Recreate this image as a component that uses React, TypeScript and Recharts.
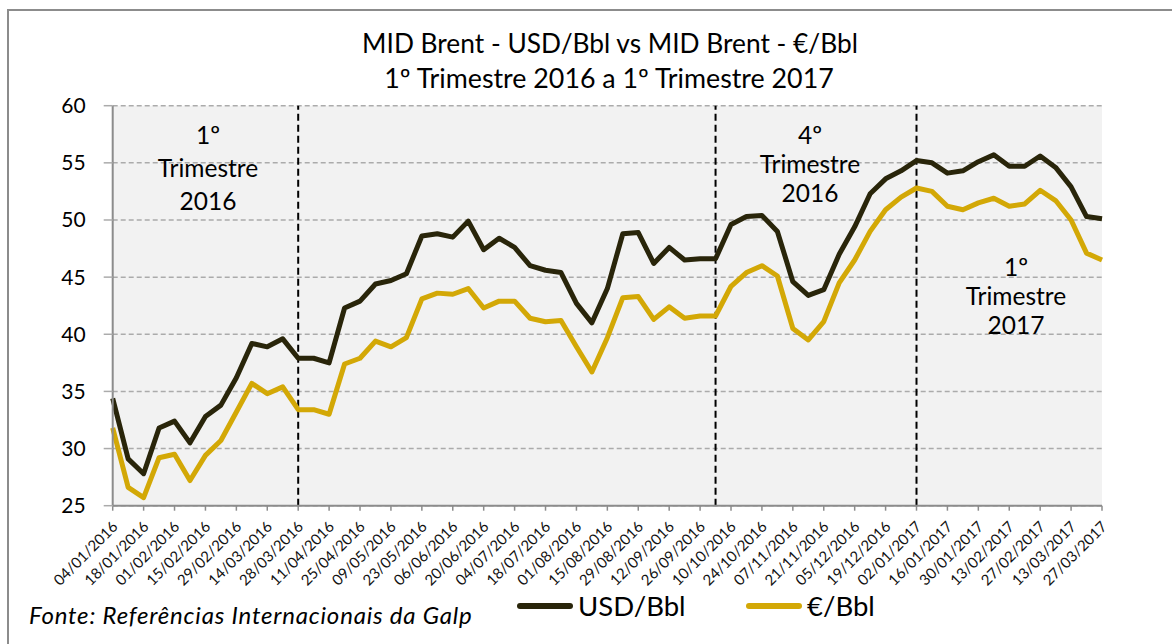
import React from "react"
import { LineChart, Line, XAxis, YAxis, CartesianGrid, ReferenceLine } from "recharts"

// weekly quotes, Mondays
const weeks = [
  "04/01/2016", "11/01/2016", "18/01/2016", "25/01/2016", "01/02/2016", "08/02/2016", "15/02/2016",
  "22/02/2016", "29/02/2016", "07/03/2016", "14/03/2016", "21/03/2016", "28/03/2016", "04/04/2016",
  "11/04/2016", "18/04/2016", "25/04/2016", "02/05/2016", "09/05/2016", "16/05/2016", "23/05/2016",
  "30/05/2016", "06/06/2016", "13/06/2016", "20/06/2016", "27/06/2016", "04/07/2016", "11/07/2016",
  "18/07/2016", "25/07/2016", "01/08/2016", "08/08/2016", "15/08/2016", "22/08/2016", "29/08/2016",
  "05/09/2016", "12/09/2016", "19/09/2016", "26/09/2016", "03/10/2016", "10/10/2016", "17/10/2016",
  "24/10/2016", "31/10/2016", "07/11/2016", "14/11/2016", "21/11/2016", "28/11/2016", "05/12/2016",
  "12/12/2016", "19/12/2016", "26/12/2016", "02/01/2017", "09/01/2017", "16/01/2017", "23/01/2017",
  "30/01/2017", "06/02/2017", "13/02/2017", "20/02/2017", "27/02/2017", "06/03/2017", "13/03/2017",
  "20/03/2017", "27/03/2017",
]

const usdPerBbl = [
  34.4, 29.1, 27.8, 31.8, 32.4, 30.5, 32.8, 33.8, 36.2, 39.2,
  38.9, 39.6, 37.9, 37.9, 37.5, 42.3, 42.9, 44.4, 44.7, 45.3,
  48.6, 48.8, 48.5, 49.9, 47.4, 48.4, 47.6, 46.0, 45.6, 45.4,
  42.7, 41.0, 44.0, 48.8, 48.9, 46.2, 47.6, 46.5, 46.6, 46.6,
  49.6, 50.3, 50.4, 49.0, 44.6, 43.4, 43.9, 47.0, 49.4, 52.3,
  53.6, 54.3, 55.2, 55.0, 54.1, 54.3, 55.1, 55.7, 54.7, 54.7,
  55.6, 54.6, 52.9, 50.3, 50.1,
]

const eurPerBbl = [
  31.8, 26.6, 25.7, 29.2, 29.5, 27.2, 29.4, 30.7, 33.2, 35.7,
  34.8, 35.4, 33.4, 33.4, 33.0, 37.4, 37.9, 39.4, 38.9, 39.7,
  43.1, 43.6, 43.5, 44.0, 42.3, 42.9, 42.9, 41.4, 41.1, 41.2,
  38.9, 36.7, 39.7, 43.2, 43.3, 41.3, 42.4, 41.4, 41.6, 41.6,
  44.2, 45.4, 46.0, 45.1, 40.5, 39.5, 41.1, 44.5, 46.5, 49.0,
  50.9, 52.0, 52.8, 52.5, 51.2, 50.9, 51.5, 51.9, 51.2, 51.4,
  52.6, 51.7, 50.0, 47.1, 46.5,
]

const yTicks = [25, 30, 35, 40, 45, 50, 55, 60]
const quarterBreaks = ["28/03/2016", "03/10/2016", "02/01/2017"]

const title = ["MID Brent - USD/Bbl vs MID Brent - €/Bbl", "1º Trimestre 2016 a 1º Trimestre 2017"]
const source = "Fonte: Referências Internacionais da Galp"

const USD_COLOR = "#29250a"
const EUR_COLOR = "#d3a806"
const FONT = "Lato, 'Open Sans', sans-serif"

const rows = weeks.map((date, i) => ({ date, usd: usdPerBbl[i], eur: eurPerBbl[i] }))

function DateTick(props: any) {
  const { x, y, payload } = props
  return (
    <g transform={`translate(${x + 6},${y + 15})`}>
      <text textAnchor="end" transform="rotate(-45)" fontSize={15} fontFamily={FONT} fill="#111">
        {payload.value}
      </text>
    </g>
  )
}

function TextLine({ cx, cy, size, children, italic = false }: any) {
  const lh = size * 1.2
  return (
    <div
      style={{
        position: "absolute",
        left: cx - 400,
        width: 800,
        top: cy - lh / 2,
        height: lh,
        lineHeight: `${lh}px`,
        fontSize: size,
        fontStyle: italic ? "italic" : "normal",
        textAlign: "center",
        whiteSpace: "nowrap",
        color: "#000",
      }}
    >
      {children}
    </div>
  )
}

function Note({ cx, top, gap, lines }: any) {
  return (
    <>
      {lines.map((t: string, i: number) => (
        <TextLine key={i} cx={cx} cy={top + i * gap} size={24.5}>
          {t}
        </TextLine>
      ))}
    </>
  )
}

function LegendItem({ left, color, label }: any) {
  return (
    <div style={{ position: "absolute", left, top: 588, height: 36, display: "flex", alignItems: "center" }}>
      <div style={{ width: 56, height: 6, borderRadius: 3, background: color, marginRight: 5 }} />
      <span style={{ fontSize: 27.5, lineHeight: "36px" }}>{label}</span>
    </div>
  )
}

export default function App() {
  return (
    <div
      style={{
        position: "absolute",
        left: 0,
        top: 0,
        width: 1172,
        height: 644,
        overflow: "hidden",
        background: "#fff",
        fontFamily: FONT,
      }}
    >
      <div
        style={{
          position: "absolute",
          left: 7,
          top: 9,
          width: 1300,
          height: 800,
          border: "2px solid #8c8c8c",
        }}
      />
      <div style={{ position: "absolute", left: 0, top: 0 }}>
        <LineChart
          width={1172}
          height={644}
          data={rows}
          margin={{ top: 105.7, right: 70, bottom: 58.3, left: 52.7 }}
        >
          <CartesianGrid
            vertical={false}
            fill="#f2f2f2"
            stroke="#ababab"
            strokeWidth={1.5}
            strokeDasharray="5 3"
          />
          <XAxis
            dataKey="date"
            interval={1}
            height={80}
            tickSize={5}
            tickMargin={2}
            tick={<DateTick />}
            axisLine={{ stroke: "#8c8c8c", strokeWidth: 2 }}
            tickLine={{ stroke: "#8c8c8c", strokeWidth: 1.5 }}
          />
          <YAxis
            width={60}
            domain={[25, 60]}
            ticks={yTicks}
            tickSize={9}
            tickMargin={18}
            axisLine={{ stroke: "#8c8c8c", strokeWidth: 2 }}
            tickLine={{ stroke: "#ababab", strokeWidth: 1.5 }}
            tick={{ fontSize: 21, fill: "#000", fontFamily: FONT }}
          />
          {quarterBreaks.map((d) => (
            <ReferenceLine key={d} x={d} stroke="#000" strokeWidth={2} strokeDasharray="7 4" />
          ))}
          <Line
            type="linear"
            dataKey="usd"
            name="USD/Bbl"
            stroke={USD_COLOR}
            strokeWidth={5}
            strokeLinejoin="round"
            dot={false}
            isAnimationActive={false}
          />
          <Line
            type="linear"
            dataKey="eur"
            name="€/Bbl"
            stroke={EUR_COLOR}
            strokeWidth={5}
            strokeLinejoin="round"
            dot={false}
            isAnimationActive={false}
          />
        </LineChart>
      </div>

      <TextLine cx={610} cy={44} size={26.3}>{title[0]}</TextLine>
      <TextLine cx={609} cy={78} size={26.8}>{title[1]}</TextLine>

      <Note cx={208} top={135} gap={33} lines={["1º", "Trimestre", "2016"]} />
      <Note cx={810} top={135} gap={29} lines={["4º", "Trimestre", "2016"]} />
      <Note cx={1016} top={267} gap={29} lines={["1º", "Trimestre", "2017"]} />

      <div
        style={{
          position: "absolute",
          left: 29,
          top: 615 - 14.4,
          lineHeight: "28.8px",
          fontSize: 24,
          letterSpacing: 0.8,
          fontStyle: "italic",
          whiteSpace: "nowrap",
        }}
      >
        {source}
      </div>

      <LegendItem left={517} color={USD_COLOR} label="USD/Bbl" />
      <LegendItem left={746} color={EUR_COLOR} label="€/Bbl" />
    </div>
  )
}
